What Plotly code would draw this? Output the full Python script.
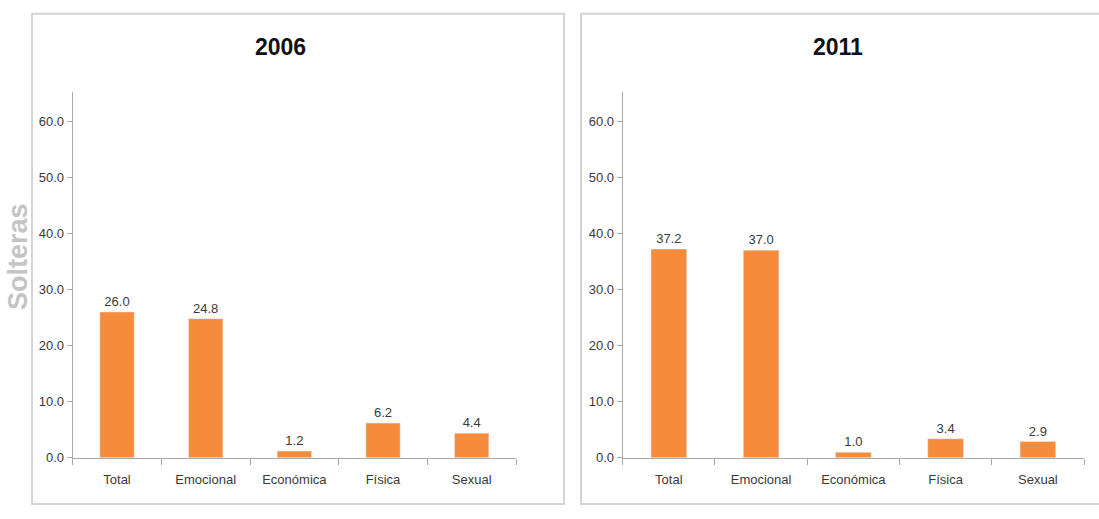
import plotly.graph_objects as go

categories = ["Total", "Emocional", "Económica", "Física", "Sexual"]
values_2006 = [26.0, 24.8, 1.2, 6.2, 4.4]
values_2011 = [37.2, 37.0, 1.0, 3.4, 2.9]
panel_titles = ["2006", "2011"]
y_title = "Solteras"

W, H = 1099, 519
BAR = "#F68B3B"
FONT = "Liberation Sans, Arial, sans-serif"
TXT = "#3a3a3a"
AX = "#a8a8a8"

def px_x(p):
    return p / W

def px_y(p):
    return 1 - p / H

fig = go.Figure()
for vals, xa, ya in [(values_2006, "x", "y"), (values_2011, "x2", "y2")]:
    fig.add_trace(go.Bar(x=categories, y=vals, xaxis=xa, yaxis=ya,
                         marker_color=BAR, texttemplate="%{y:.1f}", textposition="outside",
                         textfont=dict(family=FONT, size=13, color=TXT), cliponaxis=False,
                         showlegend=False))

ydom = [px_y(465), px_y(93)]
yrange = [0, 372 / 5.7]

def xax(dom, anchor):
    return dict(domain=dom, anchor=anchor, showline=True, linecolor=AX, linewidth=1,
                ticks="outside", tickson="boundaries", ticklen=6, tickcolor=AX,
                tickfont=dict(family=FONT, size=13, color=TXT), ticklabelstandoff=10,
                showgrid=False, zeroline=False, range=[-0.5, 4.5])

def yax(anchor):
    return dict(domain=ydom, anchor=anchor, range=yrange, dtick=10, tick0=0,
                tickformat=".1f", showline=True, linecolor=AX, linewidth=1,
                ticks="outside", ticklen=5, tickcolor=AX, showgrid=False, zeroline=False,
                tickfont=dict(family=FONT, size=13, color=TXT))

fig.update_layout(
    width=W, height=H, margin=dict(l=0, r=0, t=0, b=0),
    paper_bgcolor="white", plot_bgcolor="white",
    bargap=0.613,
    xaxis=xax([px_x(72.7), px_x(516)], "y"),
    xaxis2=xax([px_x(622.7), px_x(1084)], "y2"),
    yaxis=yax("x"),
    yaxis2=yax("x2"),
    shapes=[
        dict(type="rect", xref="paper", yref="paper", x0=px_x(32), x1=px_x(564),
             y0=px_y(512), y1=px_y(14), line=dict(color="#d4d4d4", width=2)),
        dict(type="rect", xref="paper", yref="paper", x0=px_x(581), x1=1.02,
             y0=px_y(512), y1=px_y(14), line=dict(color="#d4d4d4", width=2)),
    ],
    annotations=[
        dict(text=f"<b>{panel_titles[0]}</b>", x=px_x(280), y=px_y(48), xref="paper", yref="paper",
             showarrow=False, xanchor="center", yanchor="middle",
             font=dict(family=FONT, size=23, color="#111111")),
        dict(text=f"<b>{panel_titles[1]}</b>", x=px_x(838), y=px_y(48), xref="paper", yref="paper",
             showarrow=False, xanchor="center", yanchor="middle",
             font=dict(family=FONT, size=23, color="#111111")),
        dict(text=f"<b>{y_title}</b>", x=px_x(18), y=px_y(261), xref="paper", yref="paper",
             showarrow=False, xanchor="center", yanchor="middle", textangle=-90,
             font=dict(family=FONT, size=27, color="#c4c4c4")),
    ],
)

fig.write_html("out.html", config={"displayModeBar": False},
               post_script="document.body.style.margin='0';document.body.style.overflow='hidden';")
